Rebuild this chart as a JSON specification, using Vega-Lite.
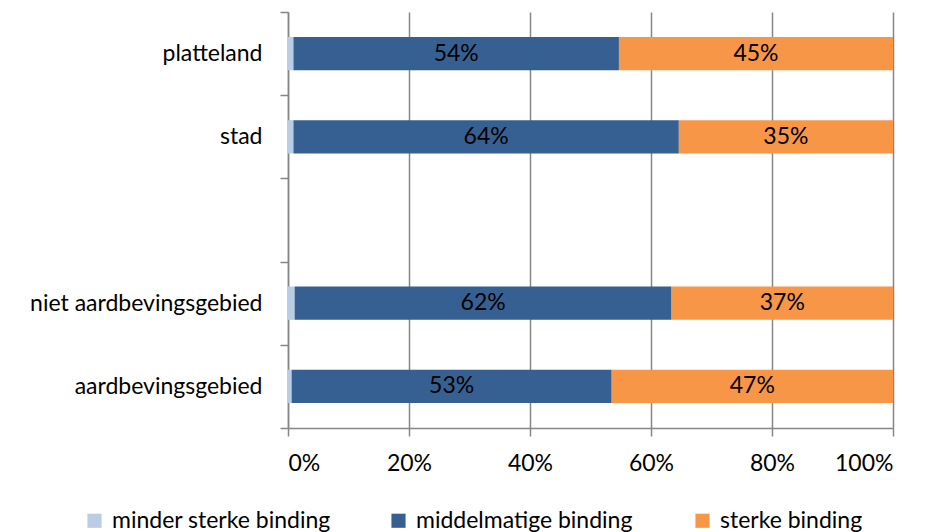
{
  "$schema": "https://vega.github.io/schema/vega-lite/v6.json",
  "autosize": {"type": "none"},
  "width": 605,
  "height": 416,
  "padding": {"left": 288, "top": 12, "right": 34, "bottom": 104},
  "background": "white",
  "config": {
    "font": "Lato",
    "view": {"stroke": null},
    "axis": {"labelFont": "Lato", "labelFontSize": 23, "labelColor": "#000000", "domainColor": "#868686", "tickColor": "#868686", "domainWidth": 1.5, "tickWidth": 1.5, "gridColor": "#868686", "gridWidth": 1.5, "labelLimit": 400}
  },
  "data": {
    "values": [
      {"gebied": "platteland", "binding": "minder sterke binding", "order": 1, "value": 0.009},
      {"gebied": "platteland", "binding": "middelmatige binding", "order": 2, "value": 0.538},
      {"gebied": "platteland", "binding": "sterke binding", "order": 3, "value": 0.453},
      {"gebied": "stad", "binding": "minder sterke binding", "order": 1, "value": 0.009},
      {"gebied": "stad", "binding": "middelmatige binding", "order": 2, "value": 0.637},
      {"gebied": "stad", "binding": "sterke binding", "order": 3, "value": 0.354},
      {"gebied": "niet aardbevingsgebied", "binding": "minder sterke binding", "order": 1, "value": 0.011},
      {"gebied": "niet aardbevingsgebied", "binding": "middelmatige binding", "order": 2, "value": 0.623},
      {"gebied": "niet aardbevingsgebied", "binding": "sterke binding", "order": 3, "value": 0.366},
      {"gebied": "aardbevingsgebied", "binding": "minder sterke binding", "order": 1, "value": 0.006},
      {"gebied": "aardbevingsgebied", "binding": "middelmatige binding", "order": 2, "value": 0.529},
      {"gebied": "aardbevingsgebied", "binding": "sterke binding", "order": 3, "value": 0.465}
    ]
  },
  "transform": [
    {"stack": "value", "groupby": ["gebied"], "sort": [{"field": "order"}], "as": ["x0", "x1"]},
    {"calculate": "(datum.x0 + datum.x1) / 2", "as": "xmid"}
  ],
  "encoding": {
    "y": {
      "field": "gebied", "type": "nominal",
      "scale": {"domain": ["platteland", "stad", " ", "niet aardbevingsgebied", "aardbevingsgebied"], "paddingInner": 0, "paddingOuter": 0},
      "axis": {"title": null, "tickBand": "extent", "tickSize": 8, "labelPadding": 18, "grid": false, "domain": true, "ticks": true}
    }
  },
  "layer": [
    {
      "mark": {"type": "bar", "height": {"band": 0.4}},
      "encoding": {
        "x": {"field": "x0", "type": "quantitative", "scale": {"domain": [0, 1]},
          "axis": {"title": null, "format": ".0%", "values": [0, 0.2, 0.4, 0.6, 0.8, 1], "grid": true, "tickSize": 8, "labelPadding": 16, "domain": true}},
        "x2": {"field": "x1"},
        "color": {
          "field": "binding", "type": "nominal",
          "scale": {"domain": ["minder sterke binding", "middelmatige binding", "sterke binding"], "range": ["#B9CDE5", "#376092", "#F79646"]},
          "legend": {"title": null, "orient": "none", "direction": "horizontal", "legendX": -205, "legendY": 497, "columns": 3, "gridAlign": "all", "columnPadding": 56, "symbolType": "square", "symbolSize": 200, "symbolStrokeWidth": 0, "labelFont": "Lato", "labelFontSize": 23, "labelColor": "#000000", "labelOffset": 6, "labelLimit": 400}
        }
      }
    },
    {
      "transform": [{"filter": "datum.order > 1"}],
      "mark": {"type": "text", "font": "Lato", "fontSize": 23, "color": "#000000", "baseline": "middle", "align": "center"},
      "encoding": {
        "x": {"field": "xmid", "type": "quantitative"},
        "text": {"field": "value", "type": "quantitative", "format": ".0%"}
      }
    }
  ]
}
